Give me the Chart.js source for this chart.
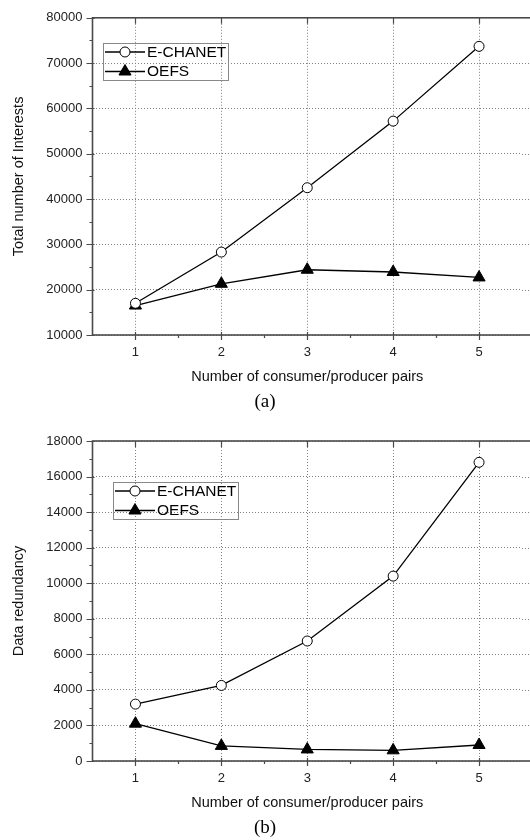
<!DOCTYPE html>
<html>
<head>
<meta charset="utf-8">
<script src="https://cdn.jsdelivr.net/npm/chart.js@4/dist/chart.umd.min.js"></script>
<style>
  body { margin: 0; background: #fff; }
  canvas { display: block; }
</style>
</head>
<body>
<canvas id="chartA" width="530" height="420"></canvas>
<canvas id="chartB" width="530" height="420"></canvas>
<script>
// x positions (number of consumer/producer pairs)
const pairs = [1, 2, 3, 4, 5];

// (a) total number of Interests
const interestsEchanet = [17000, 28300, 42500, 57200, 73700];
const interestsOefs = [16500, 21300, 24400, 23900, 22700];

// (b) data redundancy
const redundancyEchanet = [3200, 4250, 6750, 10400, 16800];
const redundancyOefs = [2100, 850, 650, 600, 900];

const seriesNames = ['E-CHANET', 'OEFS'];
const xTitle = 'Number of consumer/producer pairs';

const FONT = "'Liberation Sans', Arial, sans-serif";

function toPoints(ys) {
    return pairs.map((x, i) => ({ x: x, y: ys[i] }));
}

// box frame (right side runs off the page) plus the small tick marks
const frameTicks = {
    id: 'frameTicks',
    beforeDatasetsDraw(chart, args, opts) {
        const { ctx, chartArea: a, width } = chart;
        const xs = chart.scales.x, ys = chart.scales.y;
        ctx.save();
        // chart.js stops the plot 5px short of the canvas edge; carry the dotted grid on to the edge
        ctx.strokeStyle = '#808080';
        ctx.lineWidth = 1;
        ctx.setLineDash([1, 2]);
        ctx.beginPath();
        for (let v = opts.min + opts.major; v < opts.max; v += opts.major) {
            const py = Math.round(ys.getPixelForValue(v)) + 0.5;
            ctx.moveTo(a.right, py);
            ctx.lineTo(width, py);
        }
        ctx.stroke();
        ctx.setLineDash([]);

        ctx.strokeStyle = '#4a4a4a';
        ctx.lineWidth = 1.6;
        ctx.strokeRect(a.left, a.top, width - a.left + 10, a.bottom - a.top);
        ctx.lineWidth = 1.2;
        ctx.beginPath();
        // x ticks: major at integers, minor at halves
        for (let v = 1; v <= 5.01; v += 0.5) {
            const px = Math.round(xs.getPixelForValue(v)) + 0.5;
            const major = Number.isInteger(v);
            ctx.moveTo(px, a.bottom - (major ? 3 : 0));
            ctx.lineTo(px, a.bottom + (major ? 5 : 3));
            if (major) {
                ctx.moveTo(px, a.top);
                ctx.lineTo(px, a.top + 6);
            }
        }
        // y ticks
        for (let v = opts.min; v <= opts.max; v += opts.minor) {
            const py = Math.round(ys.getPixelForValue(v)) + 0.5;
            const major = (v - opts.min) % opts.major === 0;
            ctx.moveTo(a.left + (major ? 2 : 0), py);
            ctx.lineTo(a.left - (major ? 6 : 3), py);
        }
        ctx.stroke();
        ctx.restore();
    }
};

// legend drawn as Origin does it: line sample with marker in the middle
const boxLegend = {
    id: 'boxLegend',
    afterDraw(chart, args, opts) {
        const ctx = chart.ctx;
        const x0 = opts.x, y0 = opts.y;
        ctx.save();
        ctx.strokeStyle = '#888';
        ctx.lineWidth = 1;
        ctx.strokeRect(x0 + 0.5, y0 + 0.5, 125, 37);
        ctx.font = '15.5px ' + FONT;
        ctx.textBaseline = 'middle';
        chart.data.datasets.forEach((ds, i) => {
            const cy = y0 + 9 + i * 19.5;
            ctx.strokeStyle = '#000';
            ctx.lineWidth = 1.3;
            ctx.beginPath();
            ctx.moveTo(x0 + 2, cy);
            ctx.lineTo(x0 + 42, cy);
            ctx.stroke();
            ctx.fillStyle = ds.pointBackgroundColor;
            ctx.lineWidth = 1;
            ctx.beginPath();
            if (ds.pointStyle === 'circle') {
                ctx.arc(x0 + 22, cy, ds.pointRadius, 0, Math.PI * 2);
            } else {
                const r = ds.pointRadius;
                ctx.moveTo(x0 + 22, cy - r);
                ctx.lineTo(x0 + 22 + r * 0.866, cy + r / 2);
                ctx.lineTo(x0 + 22 - r * 0.866, cy + r / 2);
                ctx.closePath();
            }
            ctx.fill();
            ctx.stroke();
            ctx.fillStyle = '#000';
            ctx.fillText(ds.label, x0 + 44, cy + 0.5);
        });
        ctx.restore();
    }
};

function makeChart(id, s1, s2, yMin, yMax, yMajor, yMinor, yTitle, caption, topPad, bottomPad, legendPos) {
    return new Chart(document.getElementById(id), {
        type: 'line',
        data: {
            datasets: [{
                label: seriesNames[0],
                data: toPoints(s1),
                borderColor: '#000',
                borderWidth: 1.3,
                pointStyle: 'circle',
                pointRadius: 5,
                pointBackgroundColor: '#fff',
                pointBorderColor: '#000',
                pointBorderWidth: 1
            }, {
                label: seriesNames[1],
                data: toPoints(s2),
                borderColor: '#000',
                borderWidth: 1.3,
                pointStyle: 'triangle',
                pointRadius: 7,
                pointBackgroundColor: '#000',
                pointBorderColor: '#000',
                pointBorderWidth: 1
            }]
        },
        options: {
            responsive: false,
            animation: false,
            layout: { padding: { top: topPad, right: 0, bottom: bottomPad, left: 0 } },
            scales: {
                x: {
                    type: 'linear',
                    min: 0.5,
                    max: 5.5,
                    afterBuildTicks: (scale) => { scale.ticks = pairs.map(v => ({ value: v })); },
                    afterFit: (scale) => { scale.height = 55.3; },
                    grid: { color: '#808080', lineWidth: 1, drawTicks: false },
                    border: { display: false, dash: [1, 2] },
                    ticks: { color: '#222', padding: 10, font: { family: FONT, size: 13 } },
                    title: {
                        display: true, text: xTitle, color: '#111',
                        font: { family: FONT, size: 14.5 }, padding: { top: 0, bottom: 5 }
                    }
                },
                y: {
                    min: yMin,
                    max: yMax,
                    afterFit: (scale) => { scale.width = 92.5; },
                    grid: { color: '#808080', lineWidth: 1, drawTicks: false },
                    border: { display: false, dash: [1, 2] },
                    ticks: {
                        stepSize: yMajor, color: '#222', padding: 10,
                        font: { family: FONT, size: 13 },
                        callback: (v) => String(v)
                    },
                    title: {
                        display: true, text: yTitle, color: '#111',
                        font: { family: FONT, size: 14.5 }, padding: { top: 10, bottom: 0 }
                    }
                }
            },
            plugins: {
                legend: { display: false },
                tooltip: { enabled: false },
                title: {
                    display: true, text: caption, position: 'bottom', color: '#000',
                    font: { family: "'Liberation Serif', 'Times New Roman', serif", size: 19, weight: 'normal' },
                    padding: 0
                },
                frameTicks: { min: yMin, max: yMax, major: yMajor, minor: yMinor },
                boxLegend: legendPos
            }
        },
        plugins: [frameTicks, boxLegend]
    });
}

const chartA = makeChart('chartA', interestsEchanet, interestsOefs, 10000, 80000, 10000, 5000,
    'Total number of Interests', '(a)', 14, 6.9, { x: 103, y: 43 });
const chartB = makeChart('chartB', redundancyEchanet, redundancyOefs, 0, 18000, 2000, 1000,
    'Data redundancy', '(b)', 21, 0.9, { x: 113, y: 62 });
</script>
</body>
</html>
